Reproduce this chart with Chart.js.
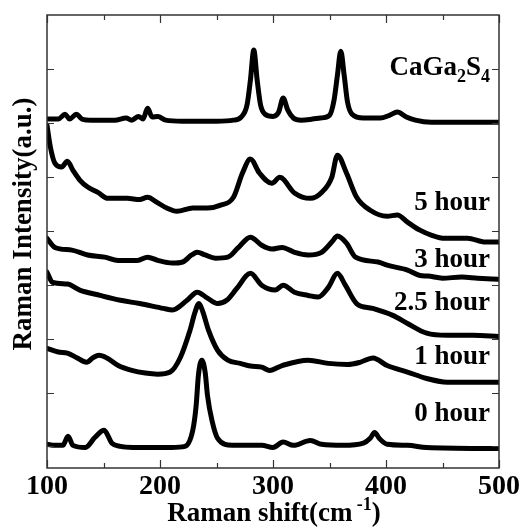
<!DOCTYPE html>
<html>
<head>
<meta charset="utf-8">
<script src="https://cdn.jsdelivr.net/npm/chart.js@4/dist/chart.umd.min.js"></script>
<style>
  html, body { margin: 0; padding: 0; background: #fff; }
  canvas { display: block; }
</style>
</head>
<body>
<canvas id="grafico" width="521" height="530"></canvas>
<script>
// Espectros Raman (shift en cm-1, intensidad en u.a. ya desplazada)
const shiftCaGa2S4 = [100,110,116,120,126,131,140,160,170,175,181,185,189,193,198,205,220,250,265,272,277,280,283,286,289,293,300,305,309,313,318,325,335,342,350,354,357,360,363,366,370,380,395,403,410,418,426,440,500];
const intCaGa2S4 = [6.07,6.07,6.16,6.07,6.16,6.07,6.05,6.05,6.09,6.05,6.12,6.07,6.27,6.11,6.12,6.05,6.03,6.03,6.05,6.11,6.33,6.79,7.35,6.79,6.33,6.16,6.12,6.20,6.46,6.24,6.09,6.05,6.07,6.09,6.14,6.42,6.88,7.33,6.88,6.38,6.16,6.09,6.09,6.14,6.20,6.11,6.05,6.01,6.01];

const shift5h = [100,103,107,113,118,123,129,136,145,154,171,182,189,197,206,215,229,242,253,265,273,280,288,299,306,319,333,343,352,357,365,374,386,401,410,419,430,440,452,472,488,500];
const int5h = [5.96,5.55,5.25,5.18,5.29,5.12,4.94,4.81,4.71,4.60,4.60,4.58,4.62,4.53,4.42,4.36,4.42,4.42,4.47,4.62,5.07,5.33,5.07,4.88,4.99,4.70,4.60,4.71,4.99,5.40,5.07,4.62,4.38,4.27,4.29,4.16,4.01,3.92,3.86,3.86,3.79,3.79];

const shift3h = [100,107,122,136,151,163,180,189,198,211,220,228,233,240,249,260,269,280,290,299,308,319,331,343,352,357,365,373,393,401,419,430,437,450,467,481,500];
const int3h = [3.86,3.69,3.64,3.55,3.51,3.45,3.45,3.51,3.45,3.40,3.42,3.55,3.60,3.55,3.49,3.51,3.68,3.88,3.73,3.66,3.69,3.60,3.55,3.60,3.79,3.90,3.77,3.51,3.42,3.36,3.27,3.17,3.16,3.12,3.14,3.12,3.10];

const shift25h = [100,105,118,129,147,165,182,203,211,224,233,242,251,259,268,280,290,302,309,319,331,340,349,357,364,374,388,406,419,436,454,477,500];
const int25h = [3.23,3.04,3.01,2.90,2.80,2.71,2.65,2.56,2.53,2.71,2.86,2.75,2.65,2.71,2.93,3.21,2.99,2.90,2.99,2.86,2.80,2.77,2.95,3.21,2.99,2.65,2.56,2.43,2.28,2.10,2.06,2.06,2.04];

const shift1h = [100,110,118,126,135,141,146,153,163,175,187,198,209,218,226.5,231,234.5,238,243,251,260,271,280,290,297,308,331,349,366,377,388.5,401,419,436,454,500];
const int1h = [1.82,1.75,1.73,1.65,1.56,1.65,1.69,1.64,1.50,1.41,1.36,1.34,1.38,1.65,2.15,2.49,2.65,2.49,2.15,1.78,1.60,1.54,1.49,1.47,1.41,1.50,1.60,1.54,1.52,1.56,1.64,1.50,1.38,1.26,1.19,1.19];

const shift0h = [100,107,114,118.6,123,134,142.5,150.5,157.5,165,176,210,222,229,232,234,237,240,242,246,251,264,290,300,309,318,333,343,362,380,386,390,394,401,419,436,500];
const int0h = [0.04,0.02,0.02,0.19,0.02,-0.02,0.17,0.30,0.06,0.00,-0.02,-0.02,0.00,0.30,0.76,1.32,1.60,1.37,0.95,0.48,0.15,0.02,0.02,-0.02,0.08,0.02,0.11,0.04,0.02,0.06,0.15,0.26,0.15,0.04,0.02,-0.02,-0.04];

// Ejes
const ticksX = [100, 200, 300, 400, 500];
const ticksXMenores = [150, 250, 350, 450];
const ticksY = [0, 1, 2, 3, 4, 5, 6, 7];
const nombres = ['CaGa2S4', '5 hour', '3 hour', '2.5 hour', '1 hour', '0 hour'];

const fuente = '"Liberation Serif", "Times New Roman", serif';

function armarSerie(xs, ys) {
  return xs.map((s, i) => ({ x: s, y: ys[i] }));
}

const series = [
  armarSerie(shiftCaGa2S4, intCaGa2S4),
  armarSerie(shift5h, int5h),
  armarSerie(shift3h, int3h),
  armarSerie(shift25h, int25h),
  armarSerie(shift1h, int1h),
  armarSerie(shift0h, int0h)
];

// Donde va cada nombre (borde derecho en cm-1, linea base en u.a.)
const posNombres = [
  { x: 492, y: 6.89 },
  { x: 492, y: 4.38 },
  { x: 492, y: 3.32 },
  { x: 492, y: 2.53 },
  { x: 492, y: 1.52 },
  { x: 492, y: 0.48 }
];

// Texto con subindices/superindices: partes [texto, desplazamiento] (0 = normal)
function anchoPartes(ctx, partes, grande, chico) {
  let w = 0;
  partes.forEach(([t, d]) => {
    ctx.font = 'bold ' + (d === 0 ? grande : chico) + 'px ' + fuente;
    w += ctx.measureText(t).width;
  });
  return w;
}

function dibujarPartes(ctx, partes, x, y, grande, chico) {
  let cx = x;
  partes.forEach(([t, d]) => {
    ctx.font = 'bold ' + (d === 0 ? grande : chico) + 'px ' + fuente;
    ctx.textAlign = 'left';
    ctx.fillText(t, cx, y + d);
    cx += ctx.measureText(t).width;
  });
}

// Marco, ticks hacia adentro y todos los textos
const marco = {
  id: 'marco',
  afterDraw(chart) {
    const ctx = chart.ctx;
    const a = chart.chartArea;
    const sx = chart.scales.x;
    const sy = chart.scales.y;
    ctx.save();

    ctx.strokeStyle = '#333';
    ctx.lineWidth = 1.5;
    ctx.strokeRect(a.left, a.top, a.right - a.left, a.bottom - a.top);

    ctx.beginPath();
    ticksX.forEach(v => {
      const px = Math.round(sx.getPixelForValue(v)) + 0.5;
      ctx.moveTo(px, a.bottom); ctx.lineTo(px, a.bottom - 8);
      ctx.moveTo(px, a.top); ctx.lineTo(px, a.top + 8);
    });
    ticksXMenores.forEach(v => {
      const px = Math.round(sx.getPixelForValue(v)) + 0.5;
      ctx.moveTo(px, a.bottom); ctx.lineTo(px, a.bottom - 5);
      ctx.moveTo(px, a.top); ctx.lineTo(px, a.top + 5);
    });
    ticksY.forEach(v => {
      const py = Math.round(sy.getPixelForValue(v)) + 0.5;
      ctx.moveTo(a.left, py); ctx.lineTo(a.left + 7, py);
      ctx.moveTo(a.right, py); ctx.lineTo(a.right - 7, py);
    });
    ctx.lineWidth = 1.2;
    ctx.stroke();

    ctx.fillStyle = '#000';
    ctx.textBaseline = 'alphabetic';

    // etiquetas del eje x
    ctx.font = 'bold 28px ' + fuente;
    ctx.textAlign = 'center';
    ticksX.forEach(v => {
      ctx.fillText(String(v), sx.getPixelForValue(v), a.bottom + 26);
    });

    // titulo eje x con superindice
    const tituloX = [['Raman shift(cm', 0], [' -1', -11], [')', 0]];
    const wx = anchoPartes(ctx, tituloX, 27, 18);
    dibujarPartes(ctx, tituloX, 274 - wx / 2, 521, 27, 18);

    // titulo eje y
    ctx.save();
    ctx.translate(31, 224);
    ctx.rotate(-Math.PI / 2);
    ctx.font = 'bold 27px ' + fuente;
    ctx.textAlign = 'center';
    ctx.fillText('Raman Intensity(a.u.)', 0, 0);
    ctx.restore();

    // nombres de cada espectro
    nombres.forEach((n, i) => {
      const px = sx.getPixelForValue(posNombres[i].x);
      const py = sy.getPixelForValue(posNombres[i].y);
      let partes;
      if (n === 'CaGa2S4') {
        partes = [['CaGa', 0], ['2', 7], ['S', 0], ['4', 7]];
      } else {
        partes = [[n, 0]];
      }
      const w = anchoPartes(ctx, partes, 27, 18);
      dibujarPartes(ctx, partes, px - w, py, 27, 18);
    });

    ctx.restore();
  }
};

const ctxGrafico = document.getElementById('grafico').getContext('2d');
new Chart(ctxGrafico, {
  type: 'line',
  data: {
    datasets: series.map((d, i) => ({
      label: nombres[i],
      data: d,
      borderColor: '#000',
      borderWidth: 5,
      pointRadius: 0,
      fill: false,
      cubicInterpolationMode: 'monotone',
      borderJoinStyle: 'round',
      borderCapStyle: 'round'
    }))
  },
  options: {
    responsive: false,
    animation: false,
    devicePixelRatio: 1,
    layout: { padding: { left: 47, top: 15, right: 22, bottom: 62 } },
    scales: {
      x: { type: 'linear', min: 100, max: 500, display: false },
      y: { type: 'linear', min: -0.4, max: 8, display: false }
    },
    plugins: {
      legend: { display: false },
      tooltip: { enabled: false }
    }
  },
  plugins: [marco]
});
</script>
</body>
</html>
